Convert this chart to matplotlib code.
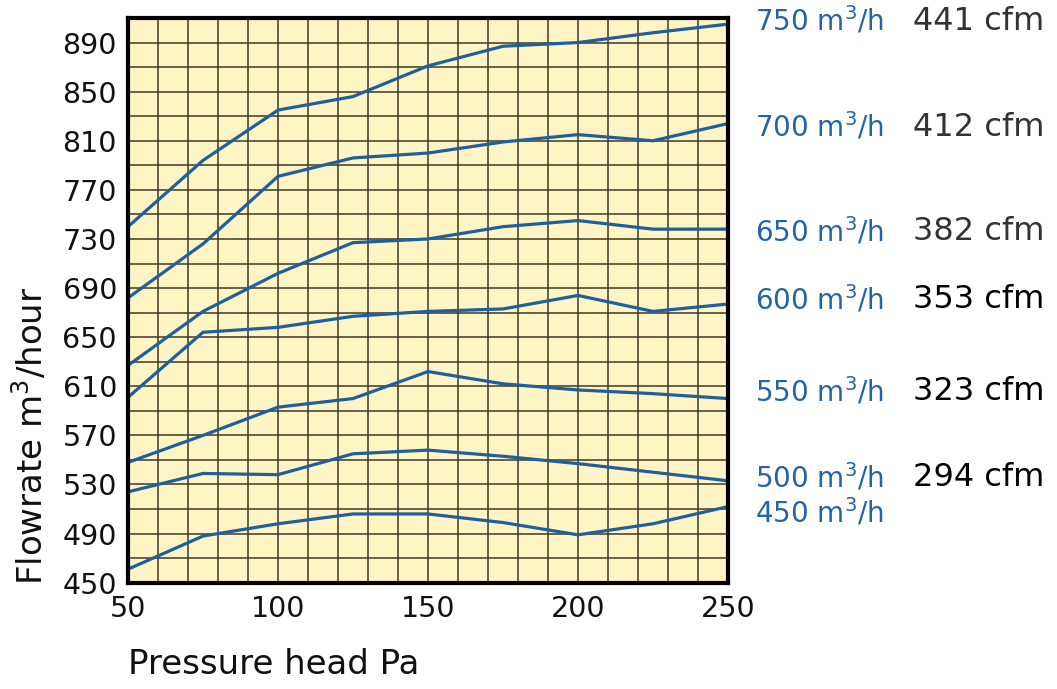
import matplotlib
matplotlib.use("Agg")
import matplotlib.pyplot as plt
import numpy as np

plt.rcParams['font.family'] = ['DejaVu Sans']
plt.rcParams['mathtext.fontset'] = 'dejavusans'

# Data
pressure = [50, 75, 100, 125, 150, 175, 200, 225, 250]
q750 = [740, 794, 835, 846, 871, 887, 890, 898, 905]
q700 = [682, 726, 781, 796, 800, 809, 815, 810, 824]
q650 = [627, 671, 702, 727, 730, 740, 745, 738, 738]
q600 = [601, 654, 658, 667, 671, 673, 684, 671, 677]
q550 = [548, 570, 593, 600, 622, 612, 607, 604, 600]
q500 = [524, 539, 538, 555, 558, 553, 547, 540, 533]
q450 = [461, 488, 498, 506, 506, 499, 489, 498, 512]
series = [q750, q700, q650, q600, q550, q500, q450]

blue_labels = ["750", "700", "650", "600", "550", "500", "450"]
cfm_labels = ["441 cfm", "412 cfm", "382 cfm", "353 cfm", "323 cfm", "294 cfm"]
label_rows_px = [21, 127, 232, 300, 392, 478, 513]

xticks = [50, 100, 150, 200, 250]
yticks = list(range(450, 891, 40))

W, H = 1057, 689
fig = plt.figure(figsize=(W / 100, H / 100), dpi=100)
ax = fig.add_axes([128 / W, 1 - 582.7 / H, 600 / W, (582.7 - 18) / H])

blue = '#1e5f9c'
ax.set_facecolor('#fff5c4')
for s in series:
    ax.plot(pressure, s, color=blue, lw=2.3, solid_joinstyle='miter', zorder=3)

ax.set_xlim(50, 250)
ax.set_ylim(450, 910)
ax.set_xticks(xticks)
ax.set_yticks(yticks)
ax.set_xticks(np.arange(50, 251, 10), minor=True)
ax.set_yticks(np.arange(450, 911, 20), minor=True)
ax.grid(which='both', color='#3d3826', lw=1.1, zorder=1)
ax.set_axisbelow(True)
ax.tick_params(which='both', length=0)
ax.tick_params(axis='y', labelsize=20.5, pad=8, colors='#111111')
ax.tick_params(axis='x', labelsize=20.5, pad=9, colors='#111111')
for sp in ax.spines.values():
    sp.set_linewidth(3)
    sp.set_color('black')
    sp.set_zorder(5)

fig.text(128 / W, 1 - 665 / H, "Pressure head Pa", fontsize=24.5,
         ha='left', va='center', color='#111111')
fig.text(30 / W, 1 - 436 / H, "Flowrate m$^3$/hour", fontsize=24.5,
         rotation=90, ha='center', va='center', color='#111111')

for i, (lab, py) in enumerate(zip(blue_labels, label_rows_px)):
    fig.text(755 / W, 1 - py / H, lab + " m$^{3}$/h", fontsize=20,
             ha='left', va='center', color='#2464a4')
    if i < len(cfm_labels):
        fig.text(913 / W, 1 - py / H, cfm_labels[i], fontsize=23,
                 ha='left', va='center',
                 color='#333333' if i < 3 else '#000000')

fig.savefig("out.png", dpi=100, facecolor='white')
